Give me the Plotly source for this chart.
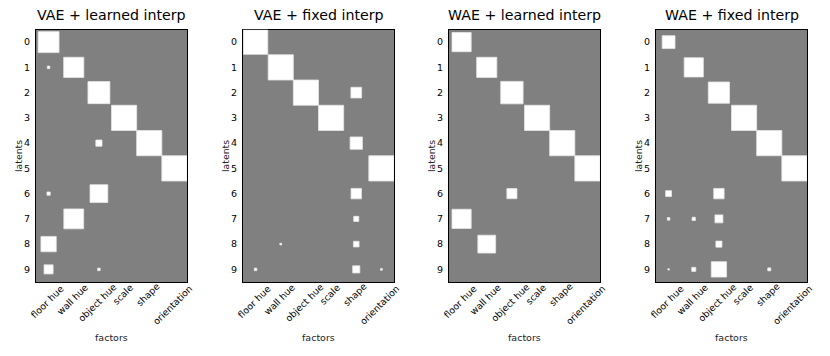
import numpy as np
import plotly.graph_objects as go

# Hinton diagrams: importance of each latent (rows) for each factor (columns)
factors = ['floor hue', 'wall hue', 'object hue', 'scale', 'shape', 'orientation']
latents = list(range(10))
titles = ['VAE + learned interp', 'VAE + fixed interp', 'WAE + learned interp', 'WAE + fixed interp']

# relative weights (square side = sqrt(weight))
vae_learned = [
    [0.69, 0, 0, 0, 0, 0],
    [0.01, 0.64, 0, 0, 0, 0],
    [0, 0, 0.76, 0, 0, 0],
    [0, 0, 0, 1.0, 0, 0],
    [0, 0, 0.06, 0, 1.0, 0],
    [0, 0, 0, 0, 0, 1.0],
    [0.017, 0, 0.5, 0, 0, 0],
    [0, 0.62, 0, 0, 0, 0],
    [0.37, 0, 0, 0, 0, 0],
    [0.13, 0, 0.01, 0, 0, 0],
]
vae_fixed = [
    [0.94, 0, 0, 0, 0, 0],
    [0, 1.0, 0, 0, 0, 0],
    [0, 0, 1.0, 0, 0.18, 0],
    [0, 0, 0, 1.0, 0, 0],
    [0, 0, 0, 0, 0.24, 0],
    [0, 0, 0, 0, 0, 1.0],
    [0, 0, 0, 0, 0.17, 0],
    [0, 0, 0, 0, 0.04, 0],
    [0, 0.005, 0, 0, 0.05, 0],
    [0.01, 0, 0, 0, 0.08, 0.005],
]
wae_learned = [
    [0.58, 0, 0, 0, 0, 0],
    [0, 0.64, 0, 0, 0, 0],
    [0, 0, 0.79, 0, 0, 0],
    [0, 0, 0, 1.0, 0, 0],
    [0, 0, 0, 0, 1.0, 0],
    [0, 0, 0, 0, 0, 1.0],
    [0, 0, 0.16, 0, 0, 0],
    [0.58, 0, 0, 0, 0, 0],
    [0, 0.5, 0, 0, 0, 0],
    [0, 0, 0, 0, 0, 0],
]
wae_fixed = [
    [0.26, 0, 0, 0, 0, 0],
    [0, 0.58, 0, 0, 0, 0],
    [0, 0, 0.71, 0, 0, 0],
    [0, 0, 0, 1.0, 0, 0],
    [0, 0, 0, 0, 1.0, 0],
    [0, 0, 0, 0, 0, 1.0],
    [0.055, 0, 0.17, 0, 0, 0],
    [0.01, 0.017, 0.1, 0, 0, 0],
    [0, 0, 0.058, 0, 0, 0],
    [0.003, 0.026, 0.37, 0, 0.014, 0],
]
panels = [vae_learned, vae_fixed, wae_learned, wae_fixed]

W, H = 830, 356
lefts = [36, 243, 449, 656]
pw = 151
top, bottom = 29.5, 282
xfs = 9.3  # rotated factor label size


def px_x(v):
    return v / W


def px_y(v):
    return 1 - v / H


fig = go.Figure()
shapes = []
annotations = []
for k, (mat, title) in enumerate(zip(panels, titles)):
    sfx = '' if k == 0 else str(k + 1)
    xa, ya = 'xaxis' + sfx, 'yaxis' + sfx
    fig.update_layout({
        xa: dict(domain=[px_x(lefts[k]), px_x(lefts[k] + pw)], range=[-0.5, 5.5],
                 showgrid=False, zeroline=False, showticklabels=False, ticks='',
                 showline=True, mirror=True, linecolor='black', linewidth=1.3,
                 anchor='y' + sfx),
        ya: dict(domain=[px_y(bottom), px_y(top)], range=[9.5, -0.5], showgrid=False,
                 zeroline=False, tickmode='array', tickvals=latents,
                 ticktext=[str(v) for v in latents], ticks='', ticklabelstandoff=3,
                 tickfont=dict(size=9.5, color='black'), showline=True, mirror=True,
                 linecolor='black', linewidth=1.3, anchor='x' + sfx),
    })
    # invisible trace so the subplot is drawn
    fig.add_trace(go.Scatter(x=[0], y=[0], mode='markers', marker=dict(opacity=0),
                             xaxis='x' + sfx, yaxis='y' + sfx, showlegend=False, hoverinfo='skip'))
    arr = np.array(mat)
    mx = arr.max()
    for i in range(arr.shape[0]):
        for j in range(arr.shape[1]):
            w = arr[i, j]
            if w <= 0:
                continue
            s = np.sqrt(w / mx)
            shapes.append(dict(type='rect', xref='x' + sfx, yref='y' + sfx,
                               x0=j - s / 2, x1=j + s / 2, y0=i - s / 2, y1=i + s / 2,
                               fillcolor='white', line=dict(width=0.8, color='#e6e6e6')))
    cx = px_x(lefts[k] + pw / 2)
    annotations.append(dict(text=title, x=cx, y=px_y(14.5), xref='paper', yref='paper',
                            showarrow=False, font=dict(size=14.2, color='black'),
                            xanchor='center', yanchor='middle'))
    annotations.append(dict(text='factors', x=cx, y=px_y(337.5), xref='paper', yref='paper',
                            showarrow=False, font=dict(size=9.5, color='#222'),
                            xanchor='center', yanchor='middle'))
    annotations.append(dict(text='latents', x=px_x(lefts[k] - 18), y=px_y(156),
                            xref='paper', yref='paper', showarrow=False, textangle=-90,
                            font=dict(size=9.3, color='#222'), xanchor='center', yanchor='middle'))
    for j, f in enumerate(factors):
        # rotated label hangs from just below the axis
        half = (len(f) * 0.5 * xfs + 0.75 * xfs) * 0.707 / 2
        annotations.append(dict(text=f, x=j, y=px_y(284 + half), xref='x' + sfx, yref='paper',
                                showarrow=False, textangle=-45, font=dict(size=xfs, color='black'),
                                xanchor='center', yanchor='middle', xshift=-1.5))

fig.update_layout(width=W, height=H, margin=dict(l=0, r=0, t=0, b=0),
                  paper_bgcolor='white', plot_bgcolor='#808080',
                  font=dict(family='DejaVu Sans'), shapes=shapes, annotations=annotations,
                  showlegend=False)
fig.write_html("out.html", config={'displayModeBar': False},
               post_script="document.body.style.margin='0';document.body.style.overflow='hidden';")
